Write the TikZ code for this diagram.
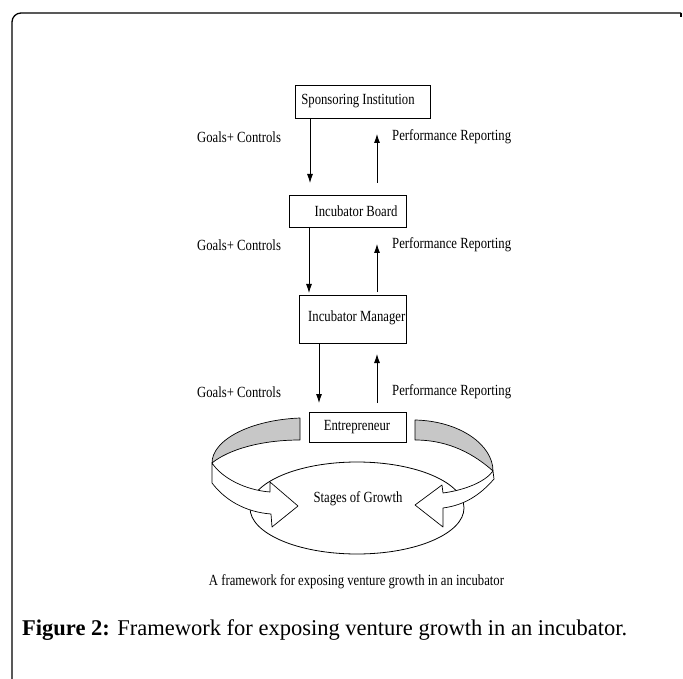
\documentclass[tikz,border=0pt]{standalone}
\usepackage{fontspec}
\setmainfont{Liberation Serif}
\newfontfamily\tnr[FakeStretch=0.82]{Liberation Serif}
\usetikzlibrary{arrows.meta,shapes.geometric}
\tikzset{
  box/.style={draw, line width=0.8pt, inner sep=0pt},
  lbl/.style={font=\tnr\fontsize{15.5}{17}\selectfont, inner sep=0pt},
  arr/.style={line width=0.8pt, -{Latex[length=9pt,width=6pt]}},
  band/.style={draw, line width=0.7pt, line join=round},
}
\begin{document}
\begin{tikzpicture}[x=1pt,y=-1pt]
\useasboundingbox (0,0) rectangle (683,679);
% frame
\draw[line width=1.3pt, rounded corners=9pt] (12,679) -- (12,13) -- (681,13);
\draw[line width=1.3pt] (681,13) -- (681,17);

% boxes
\node[box, minimum width=135pt, minimum height=33pt] (sponsor) at (362.5,101.5) {};
\node[box, minimum width=117pt, minimum height=32pt] (board) at (347.5,211) {};
\node[box, minimum width=107pt, minimum height=48pt] (manager) at (352.5,319) {};
\node[box, minimum width=97pt, minimum height=30pt] (entre) at (357.5,427) {};

\node[lbl] (tsponsor) at (358,101) {Sponsoring Institution};
\node[lbl] (tboard) at (356,211) {Incubator Board};
\node[lbl, anchor=west] (tmanager) at (308,318) {Incubator Manager};
\node[lbl] (tentre) at (357,427) {Entrepreneur};

% labels
\node[lbl, anchor=west] (g1) at (197,137) {Goals+ Controls};
\node[lbl, anchor=west] (p1) at (392,137) {Performance Reporting};
\node[lbl, anchor=west] (g2) at (197,245) {Goals+ Controls};
\node[lbl, anchor=west] (p2) at (392,245) {Performance Reporting};
\node[lbl, anchor=west] (g3) at (197,392) {Goals+ Controls};
\node[lbl, anchor=west] (p3) at (392,392) {Performance Reporting};

% arrow end coordinates
\coordinate (d1s) at (310,118);   \coordinate (d1e) at (310,183);
\coordinate (u1s) at (377,183);   \coordinate (u1e) at (377,134);
\coordinate (d2s) at (309,227);   \coordinate (d2e) at (309,293);
\coordinate (u2s) at (377,292);   \coordinate (u2e) at (377,244);
\coordinate (d3s) at (319,343);   \coordinate (d3e) at (319,403);
\coordinate (u3s) at (377,403);   \coordinate (u3e) at (377,354);
\draw[arr] (d1s) -- (d1e);
\draw[arr] (u1s) -- (u1e);
\draw[arr] (d2s) -- (d2e);
\draw[arr] (u2s) -- (u2e);
\draw[arr] (d3s) -- (d3e);
\draw[arr] (u3s) -- (u3e);

% ellipse
\node[draw, line width=0.8pt, ellipse, minimum width=214pt, minimum height=92pt, inner sep=0pt] (growth) at (357,508) {};
\node[lbl] (tgrowth) at (358,499) {Stages of Growth};

% left band
\filldraw[band, fill=black!22] (300,418) .. controls (250,420) and (212,440) .. (212,463)
  .. controls (228,450) and (260,440) .. (300,440) -- cycle;
\filldraw[band, fill=white] (212,463) -- (212,483)
  .. controls (225,500) and (245,512) .. (271,514)
  -- (272,527) -- (298,506) -- (270,482) -- (270,492)
  .. controls (245,490) and (222,478) .. (212,463) -- cycle;
% right band
\filldraw[band, fill=black!22] (415,420) .. controls (460,421) and (493,445) .. (493,471)
  .. controls (475,455) and (450,440) .. (415,440) -- cycle;
\filldraw[band, fill=white] (493,471) -- (494,479)
  .. controls (480,495) and (465,505) .. (443,508)
  -- (443,527) -- (415,505) -- (442,485) -- (443,493)
  .. controls (465,490) and (485,482) .. (493,471) -- cycle;

\node[lbl] (caption) at (356.5,582) {A framework for exposing venture growth in an incubator};

\node[anchor=west, inner sep=0pt, font=\fontsize{22.5}{26}\selectfont] (figcap) at (22,630)
  {\textbf{Figure 2:} Framework for exposing venture growth in an incubator.};
\end{tikzpicture}
\end{document}
